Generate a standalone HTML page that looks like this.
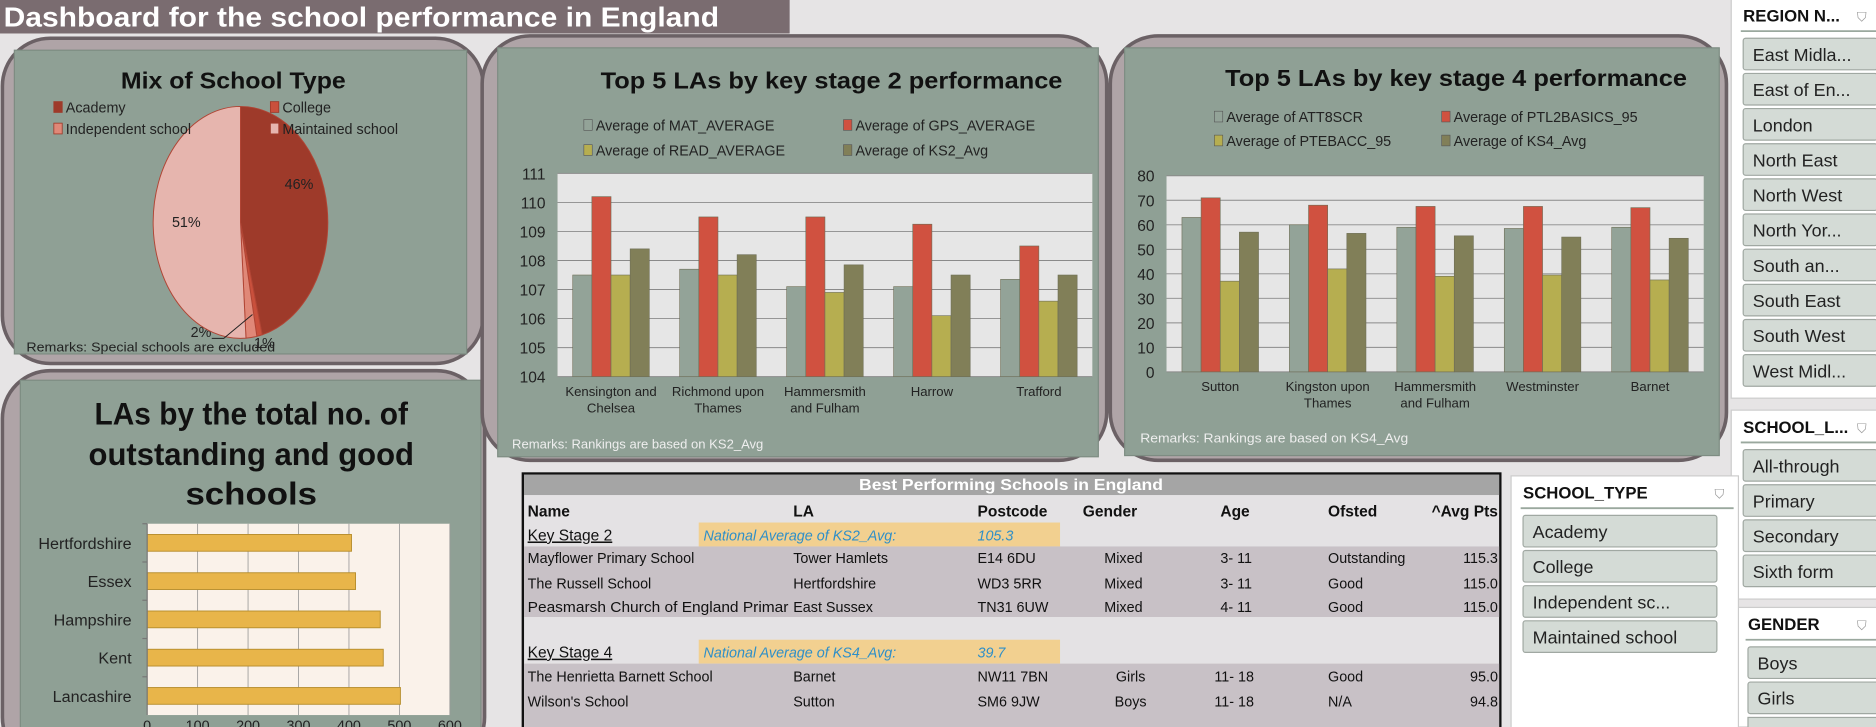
<!DOCTYPE html>
<html><head><meta charset="utf-8"><style>
html,body{margin:0;padding:0;background:#e6e4e5;overflow:hidden;width:1876px;height:727px}
svg{display:block;overflow:hidden}
text{font-family:"Liberation Sans Narrow","Liberation Sans",sans-serif}
</style></head><body>
<svg id="s" width="1876" height="727" viewBox="0 0 1568 608" preserveAspectRatio="none" xmlns="http://www.w3.org/2000/svg">
<defs><clipPath id="clipAll"><rect x="0" y="0" width="1568" height="608"/></clipPath></defs>
<g clip-path="url(#clipAll)">
<rect x="0" y="0" width="1568" height="608" fill="#e6e4e5"/>
<rect x="0" y="0" width="660" height="28" fill="#7a6c70"/>
<text x="3" y="22" font-size="23" font-weight="bold" fill="#fff" textLength="598" lengthAdjust="spacingAndGlyphs">Dashboard for the school performance in England</text>

<rect x="2" y="32" width="402" height="272" rx="40" fill="#afa4a7" stroke="#6b6165" stroke-width="3"/>
<rect x="12" y="42" width="378" height="254" fill="#8fa095" stroke="#7d8c82"/>
<rect x="2" y="310" width="403" height="330" rx="40" fill="#afa4a7" stroke="#6b6165" stroke-width="3"/>
<rect x="17" y="318" width="385" height="300" fill="#8fa095" stroke="#7d8c82"/>
<rect x="403" y="30" width="522" height="355" rx="40" fill="#afa4a7" stroke="#6b6165" stroke-width="3"/>
<rect x="416" y="40" width="502" height="342" fill="#8fa095" stroke="#7d8c82"/>
<rect x="928" y="30" width="515" height="355" rx="40" fill="#afa4a7" stroke="#6b6165" stroke-width="3"/>
<rect x="940" y="40" width="497" height="341" fill="#8fa095" stroke="#7d8c82"/>

<text x="195" y="74" font-size="19" font-weight="bold" text-anchor="middle" fill="#111" textLength="188" lengthAdjust="spacingAndGlyphs">Mix of School Type</text>
<g id="pie"></g>
<text x="22" y="294" font-size="10.5" fill="#222" textLength="208" lengthAdjust="spacingAndGlyphs">Remarks: Special schools are excluded</text>

<text x="210" y="355" font-size="26" font-weight="bold" text-anchor="middle" fill="#111" textLength="262" lengthAdjust="spacingAndGlyphs">LAs by the total no. of</text>
<text x="210" y="389" font-size="26" font-weight="bold" text-anchor="middle" fill="#111" textLength="272" lengthAdjust="spacingAndGlyphs">outstanding and good</text>
<text x="210" y="422" font-size="26" font-weight="bold" text-anchor="middle" fill="#111" textLength="110" lengthAdjust="spacingAndGlyphs">schools</text>
<g id="lachart"></g>

<text x="695" y="74" font-size="19" font-weight="bold" text-anchor="middle" fill="#111" textLength="386" lengthAdjust="spacingAndGlyphs">Top 5 LAs by key stage 2 performance</text>
<g id="ks2"></g>
<text x="428" y="375" font-size="10.5" fill="#eee" textLength="210" lengthAdjust="spacingAndGlyphs">Remarks: Rankings are based on KS2_Avg</text>

<text x="1217" y="72" font-size="19" font-weight="bold" text-anchor="middle" fill="#111" textLength="386" lengthAdjust="spacingAndGlyphs">Top 5 LAs by key stage 4 performance</text>
<g id="ks4"></g>
<text x="953" y="370" font-size="10.5" fill="#eee" textLength="224" lengthAdjust="spacingAndGlyphs">Remarks: Rankings are based on KS4_Avg</text>

<g>
<rect x="437" y="396" width="817" height="220" fill="#e4e2e4" stroke="#111" stroke-width="2"/>
<rect x="438" y="397" width="815" height="17" fill="#a5a5a5"/>
<text x="845" y="410" font-size="13" font-weight="bold" fill="#fff" text-anchor="middle" textLength="254" lengthAdjust="spacingAndGlyphs">Best Performing Schools in England</text>
<g font-size="13" font-weight="bold" fill="#111">
<text x="441" y="432">Name</text><text x="663" y="432">LA</text><text x="817" y="432">Postcode</text><text x="905" y="432">Gender</text><text x="1020" y="432">Age</text><text x="1110" y="432">Ofsted</text><text x="1252" y="432" text-anchor="end">^Avg Pts</text>
</g>
<rect x="584" y="437" width="302" height="20" fill="#f2d090"/>
<text x="441" y="452" font-size="13" fill="#111" text-decoration="underline">Key Stage 2</text>
<text x="588" y="452" font-size="12" font-style="italic" fill="#2f8fc8">National Average of KS2_Avg:</text>
<text x="817" y="452" font-size="12" font-style="italic" fill="#2f8fc8">105.3</text>
<rect x="438" y="457" width="815" height="59" fill="#c8c1c6"/>
<g font-size="12" fill="#111">
<text x="441" y="471">Mayflower Primary School</text><text x="663" y="471">Tower Hamlets</text><text x="817" y="471">E14 6DU</text><text x="939" y="471" text-anchor="middle">Mixed</text><text x="1020" y="471">3- 11</text><text x="1110" y="471">Outstanding</text><text x="1252" y="471" text-anchor="end">115.3</text>
<text x="441" y="492">The Russell School</text><text x="663" y="492">Hertfordshire</text><text x="817" y="492">WD3 5RR</text><text x="939" y="492" text-anchor="middle">Mixed</text><text x="1020" y="492">3- 11</text><text x="1110" y="492">Good</text><text x="1252" y="492" text-anchor="end">115.0</text>
<text x="441" y="512" textLength="218" lengthAdjust="spacingAndGlyphs">Peasmarsh Church of England Primar</text><text x="663" y="512">East Sussex</text><text x="817" y="512">TN31 6UW</text><text x="939" y="512" text-anchor="middle">Mixed</text><text x="1020" y="512">4- 11</text><text x="1110" y="512">Good</text><text x="1252" y="512" text-anchor="end">115.0</text>
</g>
<rect x="584" y="535" width="302" height="20" fill="#f2d090"/>
<text x="441" y="550" font-size="13" fill="#111" text-decoration="underline">Key Stage 4</text>
<text x="588" y="550" font-size="12" font-style="italic" fill="#2f8fc8">National Average of KS4_Avg:</text>
<text x="817" y="550" font-size="12" font-style="italic" fill="#2f8fc8">39.7</text>
<rect x="438" y="555" width="815" height="53" fill="#c8c1c6"/>
<g font-size="12" fill="#111">
<text x="441" y="570">The Henrietta Barnett School</text><text x="663" y="570">Barnet</text><text x="817" y="570">NW11 7BN</text><text x="945" y="570" text-anchor="middle">Girls</text><text x="1015" y="570">11- 18</text><text x="1110" y="570">Good</text><text x="1252" y="570" text-anchor="end">95.0</text>
<text x="441" y="591">Wilson's School</text><text x="663" y="591">Sutton</text><text x="817" y="591">SM6 9JW</text><text x="945" y="591" text-anchor="middle">Boys</text><text x="1015" y="591">11- 18</text><text x="1110" y="591">N/A</text><text x="1252" y="591" text-anchor="end">94.8</text>
</g>
</g>

<g id="slicers"></g>
</g>
</svg>
<script>
const NS="http://www.w3.org/2000/svg";
function mk(parent,tag,attrs,txt){const e=document.createElementNS(NS,tag);for(const k in attrs)e.setAttribute(k,attrs[k]);if(txt!=null)e.textContent=txt;parent.appendChild(e);return e;}

const pieLabels=["Academy","College","Independent school","Maintained school"];
const pieValues=[46,1,2,51];
const pieColors=["#9e3a2a","#c9503c","#e08878","#e6b5ae"];
(function(){
  const g=document.getElementById('pie');
  const cx=201,cy=186,rx=73,ry=97;
  const tot=pieValues.reduce((a,b)=>a+b,0);
  let acc=0;
  const pt=f=>{const t=2*Math.PI*f;return [cx+rx*Math.sin(t),cy-ry*Math.cos(t)];};
  pieValues.forEach((v,i)=>{
    const a=acc/tot,b=(acc+v)/tot;acc+=v;
    const p0=pt(a),p1=pt(b);const large=(b-a)>0.5?1:0;
    const p=mk(g,'path',{d:`M${cx},${cy} L${p0[0]},${p0[1]} A${rx},${ry} 0 ${large} 1 ${p1[0]},${p1[1]} Z`,fill:pieColors[i],stroke:'#b04535','stroke-width':0.8});
    
    
    const pct=Math.round(v/tot*100)+'%';
    const m=(a+b)/2;
    let lp;
    if(v>10){ lp = m<0.5?[cx+rx*0.67,cy-28]:[cx-rx*0.62,cy+4]; }
    else { lp = i===1?[cx+20,cy+105]:[cx-33,cy+96]; }
    const t=mk(g,'text',{x:lp[0],y:lp[1],'font-size':12,fill:'#222','text-anchor':'middle'},pct);
    
    
  });
  mk(g,'path',{d:`M${cx-24},${cy+97} L${cx-14},${cy+97} L${cx+10},${cy+77}`,fill:'none',stroke:'#222','stroke-width':0.8});
  const lx=[45,226],ly=[94,112];
  pieLabels.forEach((l,i)=>{
    const x=lx[i%2],y=ly[Math.floor(i/2)];
    const r=mk(g,'rect',{x:x,y:y-9,width:7,height:9,fill:pieColors[i],stroke:'#9e3a2a','stroke-width':0.7});
    
    
    const t=mk(g,'text',{x:x+10,y:y,'font-size':12,fill:'#222'},l);
    
    
  });
})();

const laCats=["Hertfordshire","Essex","Hampshire","Kent","Lancashire"];
const laValues=[405,413,462,468,502];
const laTicks=[0,100,200,300,400,500,600];
(function(){
  const g=document.getElementById('lachart');
  const x0=123,x1=376,y0=438,y1=598;
  const xs=v=>x0+(v-0)/(600-0)*(x1-x0);
  const band=(y1-y0)/laCats.length;
  mk(g,'rect',{x:x0,y:y0,width:x1-x0,height:y1-y0,fill:'#faf2ea'});
  laTicks.forEach(t=>{
    mk(g,'line',{x1:xs(t),x2:xs(t),y1:y0,y2:y1,stroke:'#999','stroke-width':0.7});
    const tx=mk(g,'text',{x:xs(t),y:y1+13,'font-size':12,fill:'#222','text-anchor':'middle'},t);
    
    
  });
  laCats.forEach((c,i)=>{
    const yc=y0+band*(i+0.5);
    const r=mk(g,'rect',{x:x0,y:yc-7,width:xs(laValues[i])-x0,height:14,fill:'#e8b54a',stroke:'#b88f2e','stroke-width':0.8});
    
    
    const t=mk(g,'text',{x:x0-13,y:yc+5,'font-size':13.5,fill:'#222','text-anchor':'end'},c);
    
    
    mk(g,'line',{x1:x0-4,x2:x0,y1:y0+band*i,y2:y0+band*i,stroke:'#777'});
  });
  mk(g,'line',{x1:x0,x2:x0,y1:y0,y2:y1,stroke:'#777'});
})();

const serColors=["#93a398","#d05140","#b6ae50","#817f58"];
function grouped(id,box,yMin,yMax,yStep,cats,series,names,legX,legY,pfx){
  const g=document.getElementById(id);
  const {x0,x1,y0,y1}=box;
  const ys=v=>y1-(v-yMin)/(yMax-yMin)*(y1-y0);
  mk(g,'rect',{x:x0,y:y0,width:x1-x0,height:y1-y0,fill:'#e6e6e6'});
  for(let v=yMin;v<=yMax+1e-9;v+=yStep){
    mk(g,'line',{x1:x0,x2:x1,y1:ys(v),y2:ys(v),stroke:'#8a8a8a','stroke-width':0.8});
    const t=mk(g,'text',{x:x0-10,y:ys(v)+5,'font-size':13,fill:'#222','text-anchor':'end'},v);
    
    
  }
  const gw=(x1-x0)/cats.length,bw=16;
  cats.forEach((c,i)=>{
    const gx=x0+gw*i+(gw-bw*series.length)/2;
    series.forEach((s,j)=>{
      const r=mk(g,'rect',{x:gx+bw*j,y:ys(s[i]),width:bw,height:ys(yMin)-ys(s[i]),fill:serColors[j],stroke:'#6d6d55','stroke-width':0.5});
      
      
    });
    c.split('|').forEach((ln,k)=>{
      const t=mk(g,'text',{x:x0+gw*(i+0.5),y:y1+16+k*14,'font-size':11,fill:'#222','text-anchor':'middle'},ln);
      
      
    });
  });
  names.forEach((n,j)=>{
    const x=legX[j%2],y=legY[Math.floor(j/2)];
    mk(g,'rect',{x:x,y:y-9,width:7,height:9,fill:serColors[j],stroke:'#555','stroke-width':0.5});
    const t=mk(g,'text',{x:x+10,y:y,'font-size':12,fill:'#222'},n);
    
    
  });
}
const ks2Cats=["Kensington and|Chelsea","Richmond upon|Thames","Hammersmith|and Fulham","Harrow","Trafford"];
const ks2Mat=[107.5,107.7,107.1,107.1,107.35];
const ks2Gps=[110.2,109.5,109.5,109.25,108.5];
const ks2Read=[107.5,107.5,106.9,106.1,106.6];
const ks2Avg=[108.4,108.2,107.85,107.5,107.5];
const ks2Names=["Average of MAT_AVERAGE","Average of GPS_AVERAGE","Average of READ_AVERAGE","Average of KS2_Avg"];
grouped('ks2',{x0:466,x1:913,y0:145,y1:315},104,111,1,ks2Cats,[ks2Mat,ks2Gps,ks2Read,ks2Avg],ks2Names,[488,705],[109,130],'ks2');

const ks4Cats=["Sutton","Kingston upon|Thames","Hammersmith|and Fulham","Westminster","Barnet"];
const ks4Att=[63,60,59,58.5,59];
const ks4Ptl=[71,68,67.5,67.5,67];
const ks4Eb=[37,42,39,39.5,37.5];
const ks4Avg=[57,56.5,55.5,55,54.5];
const ks4Names=["Average of ATT8SCR","Average of PTL2BASICS_95","Average of PTEBACC_95","Average of KS4_Avg"];
grouped('ks4',{x0:975,x1:1424,y0:147,y1:311},0,80,10,ks4Cats,[ks4Att,ks4Ptl,ks4Eb,ks4Avg],ks4Names,[1015,1205],[102,122],'ks4');

(function(){
  const g=document.getElementById('slicers');
  function slicer(name,x,y,w,h,bx,bw,items,by,step){
    const p=mk(g,'rect',{x:x,y:y,width:w,height:h,fill:'#fff',stroke:'#ccc'});
    
    
    mk(g,'text',{x:x+10,y:y+19,'font-size':14,'font-weight':'bold',fill:'#111'},name);
    mk(g,'text',{x:x+w-20,y:y+19,'font-size':11,fill:'#999'},'⛉');
    mk(g,'line',{x1:x+8,x2:x+w-4,y1:y+27,y2:y+27,stroke:'#9aa89e','stroke-width':1.5});
    items.forEach((it,i)=>{
      const r=mk(g,'rect',{x:bx,y:by+step*i,width:bw,height:step-3,rx:2,fill:'#d4dbd6',stroke:'#a0a8a2'});
      
      
      const t=mk(g,'text',{x:bx+8,y:by+step*i+19,'font-size':15,fill:'#222'},it);
      
      
    });
  }
  slicer('REGION N...',1447,-1,125,334,1457,112,["East Midla...","East of En...","London","North East","North West","North Yor...","South an...","South East","South West","West Midl..."],32,29.4);
  slicer('SCHOOL_L...',1447,343,125,158,1457,112,["All-through","Primary","Secondary","Sixth form"],376,29.4);
  slicer('GENDER',1451,508,121,100,1461,110,["Boys","Girls"],541,29.4);
  mk(g,'rect',{x:1461,y:600,width:110,height:10,fill:'#d4dbd6',stroke:'#a0a8a2'});
  slicer('SCHOOL_TYPE',1263,398,190,212,1273,162,["Academy","College","Independent sc...","Maintained school"],431,29.4);
})();
</script>
</body></html>
